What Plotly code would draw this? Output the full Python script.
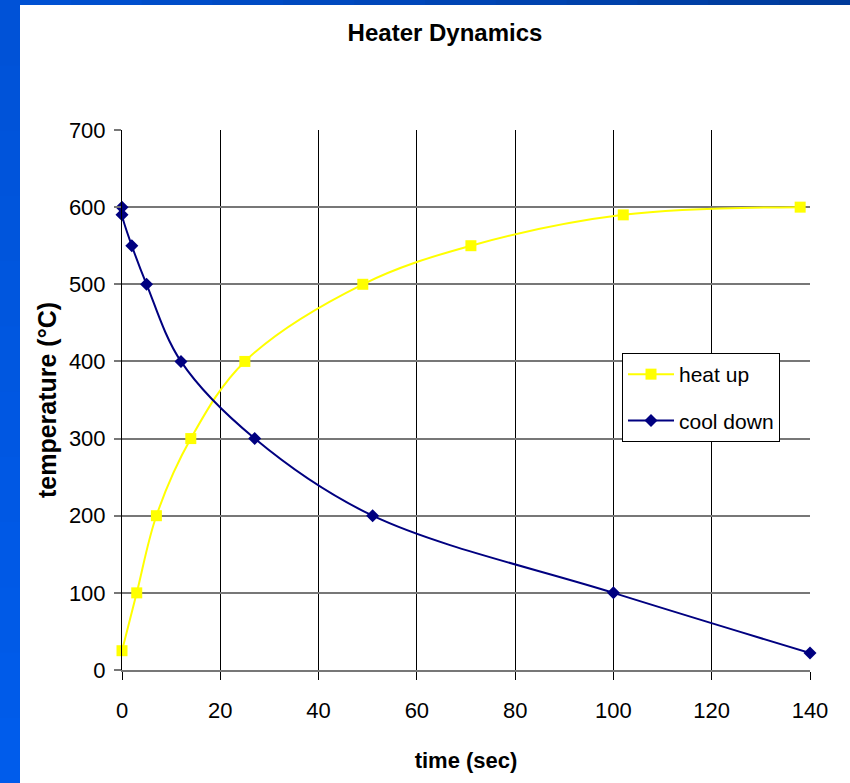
import plotly.graph_objects as go

# Heating and cooling curves of the heater (time in s, temperature in °C)
heat_time = [0, 3, 7, 14, 25, 49, 71, 102, 138]
heat_temp = [25, 100, 200, 300, 400, 500, 550, 590, 600]

cool_time = [0, 0, 2, 5, 12, 27, 51, 100, 140]
cool_temp = [600, 590, 550, 500, 400, 300, 200, 100, 22]

x_ticks = [0, 20, 40, 60, 80, 100, 120, 140]
y_ticks = [0, 100, 200, 300, 400, 500, 600, 700]

W, H = 850, 783
ML, MR, MT, MB = 122, 40, 130, 113

FONT = "Liberation Sans, Arial, sans-serif"

fig = go.Figure()
fig.add_trace(go.Scatter(
    x=heat_time, y=heat_temp, name="heat up", mode="lines+markers",
    line=dict(color="#FFFF00", width=2, shape="spline", smoothing=1.0),
    marker=dict(symbol="square", size=11, color="#FFFF00"),
    legendgroup="heat", cliponaxis=False,
))
fig.add_trace(go.Scatter(
    x=cool_time, y=cool_temp, name="cool down", mode="lines+markers",
    line=dict(color="#000080", width=2, shape="spline", smoothing=1.0),
    marker=dict(symbol="diamond", size=10, color="#000080"),
    legendgroup="cool", cliponaxis=False,
))

# slide background: blue frame along the top and left edges
pw, ph = W - ML - MR, H - MT - MB


def px_to_paper_x(p):
    return (p - ML) / pw


def px_to_paper_y(p):
    return (H - MB - p) / ph


def lerp_color(c0, c1, t):
    a = [int(c0[i:i + 2], 16) for i in (1, 3, 5)]
    b = [int(c1[i:i + 2], 16) for i in (1, 3, 5)]
    return "#" + "".join(f"{round(a[k] + (b[k] - a[k]) * t):02x}" for k in range(3))


shapes = []
n = 12
for i in range(n):
    # top band, darker towards the right
    x0p, x1p = W * i / n, W * (i + 1) / n
    shapes.append(dict(
        type="rect", xref="paper", yref="paper", layer="below",
        x0=px_to_paper_x(x0p), x1=px_to_paper_x(x1p + 1),
        y0=px_to_paper_y(5), y1=px_to_paper_y(0),
        fillcolor=lerp_color("#0052d6", "#003a98", (i + 0.5) / n), line_width=0,
    ))
    # left band, brighter towards the bottom
    y0p, y1p = H * i / n, H * (i + 1) / n
    shapes.append(dict(
        type="rect", xref="paper", yref="paper", layer="below",
        x0=px_to_paper_x(0), x1=px_to_paper_x(20),
        y0=px_to_paper_y(y1p + 1), y1=px_to_paper_y(y0p),
        fillcolor=lerp_color("#0052d6", "#005cec", (i + 0.5) / n), line_width=0,
    ))

fig.update_layout(
    width=W, height=H,
    margin=dict(l=ML, r=MR, t=MT, b=MB),
    paper_bgcolor="white", plot_bgcolor="white",
    shapes=shapes,
    title=dict(
        text="<b>Heater Dynamics</b>",
        font=dict(family=FONT, size=24, color="black"),
        x=445 / W, xref="container", xanchor="center",
        y=1 - 33 / H, yref="container", yanchor="middle",
    ),
    xaxis=dict(
        range=[0, 140], tickvals=x_ticks, ticktext=[str(v) for v in x_ticks],
        showgrid=True, gridcolor="black", gridwidth=1,
        zeroline=False,
        showline=True, linecolor="#777777", linewidth=2,
        ticks="outside", ticklen=8, tickcolor="black", tickwidth=1,
        ticklabelstandoff=12,
        tickfont=dict(family=FONT, size=22, color="black"),
        title=dict(text="<b>time (sec)</b>", standoff=30,
                   font=dict(family=FONT, size=22, color="black")),
    ),
    yaxis=dict(
        range=[0, 700], tickvals=y_ticks, ticktext=[str(v) for v in y_ticks],
        showgrid=True, gridcolor="#777777", gridwidth=1.6,
        zeroline=False,
        showline=True, linecolor="black", linewidth=1,
        ticks="outside", ticklen=7, tickcolor="#777777", tickwidth=1.6,
        ticklabelstandoff=4,
        tickfont=dict(family=FONT, size=22, color="black"),
        title=dict(text="<b>temperature (°C)</b>", standoff=5,
                   font=dict(family=FONT, size=25, color="black")),
    ),
    legend=dict(
        x=(622 - ML) / pw, y=(H - MB - 353) / ph, xanchor="left", yanchor="top",
        bgcolor="white", bordercolor="black", borderwidth=1,
        font=dict(family=FONT, size=21, color="black"),
        tracegroupgap=16, itemwidth=46, traceorder="grouped",
    ),
)

fig.write_html("out.html")
